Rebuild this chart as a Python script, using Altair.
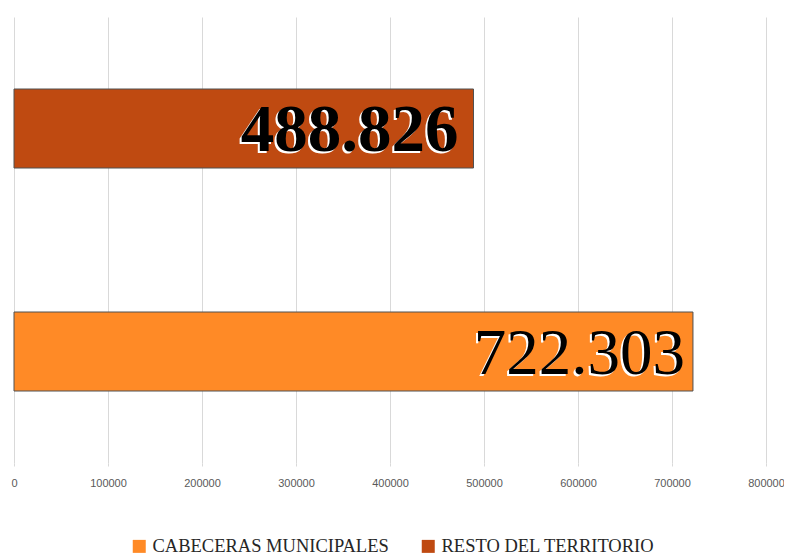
import altair as alt
import pandas as pd

categories = ["RESTO DEL TERRITORIO", "CABECERAS MUNICIPALES"]
values = [488826, 722303]
labels = ["488.826", "722.303"]
legend_order = ["CABECERAS MUNICIPALES", "RESTO DEL TERRITORIO"]
colors = ["#FF8A26", "#BF4A11"]
ticks = [0, 100000, 200000, 300000, 400000, 500000, 600000, 700000, 800000]

df = pd.DataFrame({"cat": categories, "value": values, "label": labels})

x = alt.X("value:Q", scale=alt.Scale(domain=[0, 800000], nice=False),
          axis=alt.Axis(values=ticks, format="d", title=None, domain=False, grid=True,
                        gridColor="#d9d9d9", tickColor="#d9d9d9", tickSize=3,
                        labelPadding=11, labelFont="Liberation Sans", labelFontSize=11,
                        labelColor="#595959", labelFlush=False))
y = alt.Y("cat:N", sort=categories, axis=None,
          scale=alt.Scale(paddingInner=0, paddingOuter=0))

bars = alt.Chart(df).mark_bar(size=79, stroke="#505050", strokeWidth=1).encode(
    x=x, y=y,
    color=alt.Color("cat:N", scale=alt.Scale(domain=legend_order, range=colors),
                    legend=alt.Legend(title=None, orient="none", legendX=116, legendY=520,
                                      direction="horizontal", symbolType="square",
                                      symbolSize=169, symbolStrokeWidth=0,
                                      labelFont="Liberation Serif", labelFontSize=18.5,
                                      labelColor="#262626", labelOffset=4,
                                      columnPadding=30, labelLimit=400)),
)


def label_layer(cat, weight, size, color, dx, dy):
    return alt.Chart(df).transform_filter(alt.datum.cat == cat).mark_text(
        align="right", baseline="alphabetic", dx=dx, dy=dy,
        font="Liberation Serif", fontSize=size, fontWeight=weight, color=color).encode(
        x="value:Q", y=alt.Y("cat:N", sort=categories), text="label:N")


layers = [bars]
for cat, weight, size, dx in [("RESTO DEL TERRITORIO", "bold", 67, -15),
                              ("CABECERAS MUNICIPALES", "normal", 65, -8)]:
    layers.append(label_layer(cat, weight, size, "white", dx - 2, 24))
    layers.append(label_layer(cat, weight, size, "black", dx, 22))

chart = alt.layer(*layers).properties(
    width=752, height=446,
    autosize=alt.AutoSizeParams(type="none"),
    padding={"left": 6, "top": 9, "right": 18, "bottom": 95},
).configure_view(stroke=None)

chart.save("out.html", embed_options={"renderer": "svg", "actions": False})
